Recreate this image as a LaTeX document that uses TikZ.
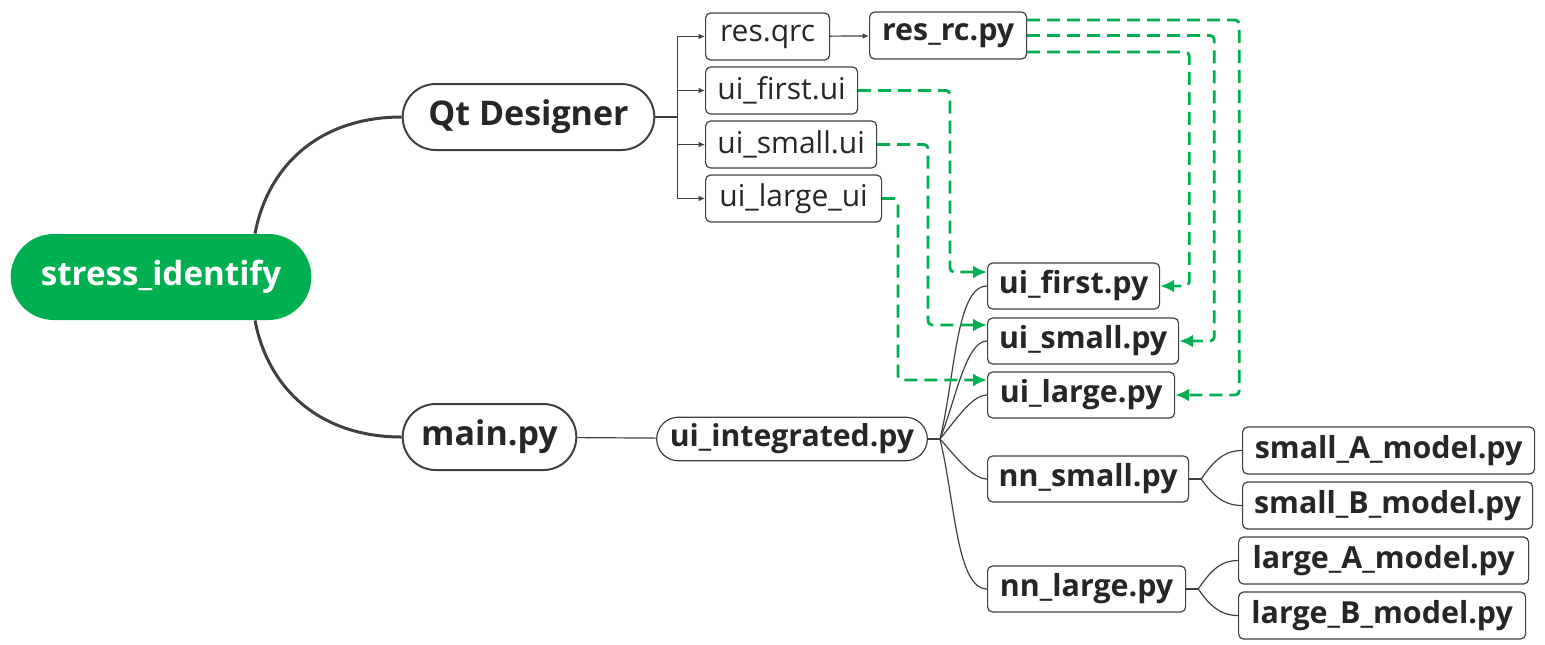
\documentclass[tikz,border=0pt]{standalone}
\usepackage{fontspec}
\setmainfont{Open Sans}
\usetikzlibrary{positioning,calc,arrows.meta,shapes.misc}
\definecolor{mmgreen}{HTML}{00B050}
\definecolor{mmline}{HTML}{404040}
\definecolor{mmtext}{HTML}{262626}

\begin{document}
\begin{tikzpicture}
      [ x=0.5pt, y=-0.5pt,
        root/.style={rounded rectangle, fill=mmgreen, text=white,
          font=\fontsize{16.6}{19}\selectfont\bfseries, minimum height=43pt},
        topic/.style={rounded rectangle, draw=mmline, line width=1pt, text=mmtext,
          font=\fontsize{17}{20}\selectfont\bfseries, minimum height=33pt},
        sub/.style={rounded rectangle, draw=mmline, line width=0.6pt, text=mmtext,
          font=\fontsize{15.1}{18}\selectfont\bfseries, minimum height=21pt},
        file/.style={rectangle, rounded corners=2.5pt, draw=mmline, line width=0.6pt,
          text=mmtext, font=\fontsize{15}{18}\selectfont, minimum height=23.5pt, anchor=west},
        pyfile/.style={file, font=\fontsize{15.2}{18}\selectfont\bfseries},
        link/.style={draw=mmline, line width=0.6pt},
        branch/.style={draw=mmline, line width=1.5pt},
        tip/.style={-{Latex[length=3.2pt,width=2.8pt]}},
        flow/.style={draw=mmgreen, line width=1.4pt, dash pattern=on 6.5pt off 3.5pt,
          rounded corners=2pt, -{Latex[length=7pt,width=6.5pt]}}
      ]
      \useasboundingbox (0,0) rectangle (1545,644);

      \node[root]  (root)  at (161,277)   [minimum width=157pt]   {stress\_identify};
      \node[topic] (qt)    at (528.5,117) [minimum width=132.5pt] {Qt Designer};
      \node[topic] (main)  at (489.5,437) [minimum width=93.5pt]  {main.py};
      \node[sub]   (integ) at (792,439)   [minimum width=142pt]   {ui\_integrated.py};

      % Qt Designer files
      \node[file]   (resqrc)    at (705,36.5)  [minimum width=62pt]   {res.qrc};
      \node[pyfile] (resrc)     at (869,35.5)  [minimum width=78.5pt] {res\_rc.py};
      \node[file]   (uifirstui) at (705,90.5)  [minimum width=76pt]   {ui\_first.ui};
      \node[file]   (uismallui) at (705,144.5) [minimum width=85.5pt] {ui\_small.ui};
      \node[file]   (uilargeui) at (705,198.5) [minimum width=88pt]   {ui\_large\_ui};

      % main.py files
      \node[pyfile] (uifirstpy) at (987,286) [minimum width=86pt, minimum height=23pt]   {ui\_first.py};
      \node[pyfile] (uismallpy) at (987,341) [minimum width=95.5pt, minimum height=23pt] {ui\_small.py};
      \node[pyfile] (uilargepy) at (987,395) [minimum width=93.5pt, minimum height=23pt] {ui\_large.py};
      \node[pyfile] (nnsmall)   at (987,479) [minimum width=100.5pt, minimum height=23pt] {nn\_small.py};
      \node[pyfile] (nnlarge)   at (987,589) [minimum width=99pt, minimum height=23pt]   {nn\_large.py};

      \node[pyfile] (smallA) at (1242,450.5) [minimum width=146pt]   {small\_A\_model.py};
      \node[pyfile] (smallB) at (1242,505.5) [minimum width=145pt]   {small\_B\_model.py};
      \node[pyfile] (largeA) at (1238,560.5) [minimum width=145pt]   {large\_A\_model.py};
      \node[pyfile] (largeB) at (1238,615.5) [minimum width=143.5pt] {large\_B\_model.py};

      % main branches
      \draw[branch] ([xshift=47pt]root.north) .. controls (268,165) and (320,117) .. (qt.west);
      \draw[branch] ([xshift=47pt]root.south) .. controls (268,389) and (320,437) .. (main.west);

      \coordinate (qtbus) at ($(qt.east)+(22,0)$);
      \draw[link] (qt.east) -- (qtbus);
      \foreach \f in {resqrc,uifirstui,uismallui,uilargeui}
        \draw[link,tip] (qtbus) |- (\f.west);
      \draw[link,tip] (resqrc) -- (resrc);

      \draw[link] (main) -- (integ);
      \coordinate (hub) at ($(integ.east)+(12,0)$);
      \draw[link] (integ.east) -- (hub);
      \path[link] (hub) edge [out=76,in=180,in looseness=0.5]  (uifirstpy.west)
                        edge [out=68,in=180,in looseness=0.5]  (uismallpy.west)
                        edge [out=50,in=180,in looseness=0.6]  (uilargepy.west)
                        edge [out=-48,in=180,in looseness=0.6] (nnsmall.west)
                        edge [out=-76,in=180,in looseness=0.5] (nnlarge.west);

      \coordinate (nshub) at ($(nnsmall.east)+(12,0)$);
      \coordinate (nlhub) at ($(nnlarge.east)+(12,0)$);
      \draw[link] (nnsmall.east) -- (nshub);
      \draw[link] (nnlarge.east) -- (nlhub);
      \path[link] (nshub) edge [out=55,in=180]  (smallA.west)
                          edge [out=-55,in=180] (smallB.west)
                  (nlhub) edge [out=55,in=180]  (largeA.west)
                          edge [out=-55,in=180] (largeB.west);

      % generated files
      \draw[flow] ([yshift=7.75pt]resrc.east) -| ($(uilargepy.east)+(64,0)$) -- (uilargepy.east);
      \draw[flow] (resrc.east) -| ($(uismallpy.east)+(35,0)$) -- (uismallpy.east);
      \draw[flow] ([yshift=-8.25pt]resrc.east) -| ($(uifirstpy.east)+(29,0)$) -- (uifirstpy.east);

      \draw[flow] (uifirstui.east) -| ($([yshift=7pt]uifirstpy.west)+(-37,0)$) -- ([yshift=7pt]uifirstpy.west);
      \draw[flow] (uismallui.east) -| ($([yshift=8pt]uismallpy.west)+(-59,0)$) -- ([yshift=8pt]uismallpy.west);
      \draw[flow] (uilargeui.east) -| ($([yshift=7.5pt]uilargepy.west)+(-89,0)$) -- ([yshift=7.5pt]uilargepy.west);
\end{tikzpicture}
\end{document}
